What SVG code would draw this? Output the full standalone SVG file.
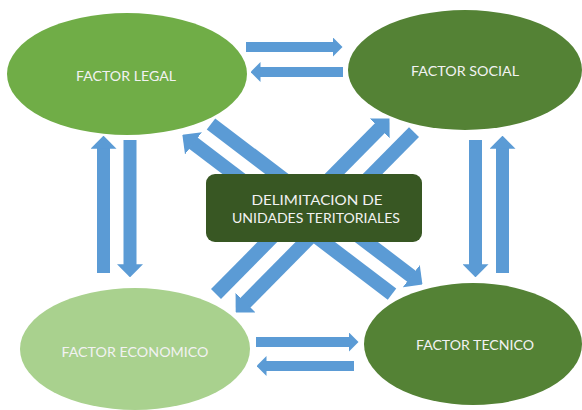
<svg xmlns="http://www.w3.org/2000/svg" width="582" height="410" viewBox="0 0 582 410">
  <defs>
    <marker id="head" viewBox="0 0 1 2" markerUnits="strokeWidth" markerWidth="1" markerHeight="2" refX="0.05" refY="1" orient="auto">
      <path d="M0,0 L1,1 L0,2 z" fill="#5B9BD5"/>
    </marker>
    <style>
      .arr { stroke: #5B9BD5; fill: none; stroke-linecap: butt; marker-end: url(#head); }
      .h { stroke-width: 10; }
      .v { stroke-width: 13; }
      .d { stroke-width: 14; }
      .lbl { font-family: Lato, "Liberation Sans", sans-serif; font-size: 12.5px; fill: #F2F2F2; text-anchor: middle; }
    </style>
  </defs>
  <rect width="582" height="410" fill="#FFFFFF"/>

  <g id="connectors">
    <!-- horizontal top -->
    <line class="arr h" x1="246" y1="47" x2="333" y2="47"/>
    <line class="arr h" x1="343" y1="72" x2="260" y2="72"/>
    <!-- horizontal bottom -->
    <line class="arr h" x1="256" y1="342" x2="349" y2="342"/>
    <line class="arr h" x1="354" y1="366" x2="266" y2="366"/>
    <!-- vertical left -->
    <line class="arr v" x1="103.5" y1="273" x2="103.5" y2="148"/>
    <line class="arr v" x1="130" y1="140" x2="130" y2="265"/>
    <!-- vertical right -->
    <line class="arr v" x1="475.5" y1="140" x2="475.5" y2="265"/>
    <line class="arr v" x1="502.5" y1="273" x2="502.5" y2="148"/>
    <!-- diagonals legal/tecnico -->
    <line class="arr d" x1="211" y1="124" x2="411.85" y2="276.53"/>
    <line class="arr d" x1="392" y1="294.1" x2="192.95" y2="142.87"/>
    <!-- diagonals economico/social -->
    <line class="arr d" x1="216" y1="294" x2="380.16" y2="127.95"/>
    <line class="arr d" x1="414" y1="132.1" x2="245.04" y2="303.05"/>
  </g>

  <g id="node-legal">
    <ellipse cx="127" cy="74" rx="120" ry="61" fill="#70AD47"/>
    <text class="lbl" x="126" y="81" textLength="100" lengthAdjust="spacingAndGlyphs">FACTOR LEGAL</text>
  </g>
  <g id="node-social">
    <ellipse cx="465" cy="70" rx="117" ry="60" fill="#548235"/>
    <text class="lbl" x="465" y="76" textLength="108" lengthAdjust="spacingAndGlyphs">FACTOR SOCIAL</text>
  </g>
  <g id="node-economico">
    <ellipse cx="135" cy="349" rx="115" ry="61" fill="#A9D18E"/>
    <text class="lbl" x="135" y="357" textLength="147" lengthAdjust="spacingAndGlyphs">FACTOR ECONOMICO</text>
  </g>
  <g id="node-tecnico">
    <ellipse cx="473" cy="344" rx="109" ry="61" fill="#548235"/>
    <text class="lbl" x="475" y="350" textLength="118" lengthAdjust="spacingAndGlyphs">FACTOR TECNICO</text>
  </g>
  <g id="node-delimitacion">
    <rect x="206" y="174" width="216" height="68" rx="9" ry="9" fill="#385723"/>
    <text class="lbl" x="317" y="205" textLength="131" lengthAdjust="spacingAndGlyphs">DELIMITACION DE</text>
    <text class="lbl" x="316" y="223" textLength="168" lengthAdjust="spacingAndGlyphs">UNIDADES TERITORIALES</text>
  </g>
</svg>
